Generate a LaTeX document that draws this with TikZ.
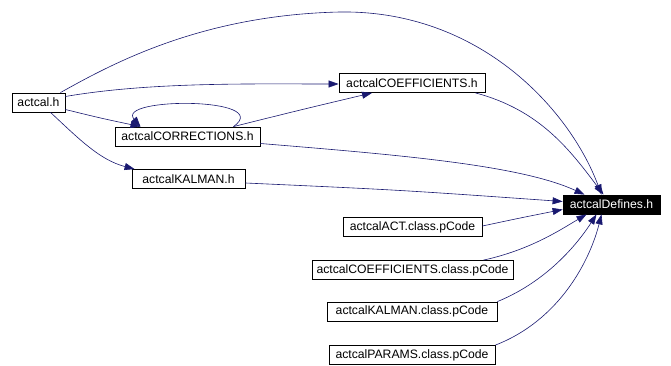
\documentclass[tikz,border=0pt]{standalone}
\usepackage{fontspec}
\setmainfont{Liberation Sans}
\usetikzlibrary{arrows.meta,calc}
\definecolor{edgec}{RGB}{25,25,112}
\begin{document}
\begin{tikzpicture}[x=1pt,y=-1pt,
  box/.style={draw=black, fill=white, inner sep=0pt, minimum height=19pt, font=\fontsize{12.2}{13}\selectfont, line width=0.8pt},
  dep/.style={draw=edgec, line width=0.6pt, -{Triangle[length=10pt,width=7pt]}}]
\useasboundingbox (0,0) rectangle (671,366);
\node[box, minimum width=53pt] (a) at (38.5,102.5) {actcal.h};
\node[box, minimum width=146pt] (coef) at (412,83) {actcalCOEFFICIENTS.h};
\node[box, minimum width=145pt] (corr) at (187.5,136.5) {actcalCORRECTIONS.h};
\node[box, minimum width=113pt] (kal) at (188.5,179) {actcalKALMAN.h};
\node[box, minimum width=97pt, fill=black, text=white] (def) at (611.5,204.5) {actcalDefines.h};
\node[box, minimum width=139pt] (act) at (412.5,227) {actcalACT.class.pCode};
\node[box, minimum width=201pt] (coefc) at (412.5,270) {actcalCOEFFICIENTS.class.pCode};
\node[box, minimum width=170pt] (kalc) at (412,311.5) {actcalKALMAN.class.pCode};
\node[box, minimum width=166pt] (par) at (412,355) {actcalPARAMS.class.pCode};
% edges
\draw[dep] ($(a.north east)+(-5,0)$) .. controls (110,65) and (200,15) .. (340,12) .. controls (480,10) and (570,110) .. ($(def.north)+(-10,0)$);
\draw[dep] ($(a.east)+(0,-6)$) .. controls (150,82) and (250,84) .. ($(coef.west)+(0,1)$);
\draw[dep] ($(a.east)+(0,7)$) .. controls (100,118) .. ($(corr.north)+(-47,0)$);
\draw[dep] ($(a.south)+(12,0)$) .. controls (80,140) and (100,160) .. ($(kal.north west)+(3,0)$);
\draw[dep] ($(corr.north)+(46,0)$) .. controls (275,97) and (115,97) .. ($(corr.north)+(-47,0)$);
\draw[dep] ($(corr.north)+(46,0)$) .. controls (300,110) .. ($(coef.south)+(-40,0)$);
\draw[dep] ($(corr.east)+(0,7)$) .. controls (400,155) and (520,165) .. ($(def.north)+(-27,0)$);
\draw[dep] ($(kal.east)+(0,4)$) .. controls (400,190) .. ($(def.west)+(0,-3)$);
\draw[dep] ($(coef.south east)+(-10,0)$) .. controls (540,110) and (570,150) .. ($(def.north)+(-8,0)$);
\draw[dep] ($(act.east)+(0,-1)$) .. controls (520,218) .. ($(def.west)+(0,5)$);
\draw[dep] ($(coefc.north east)+(-30,0)$) .. controls (530,250) and (560,230) .. ($(def.south)+(-25,0)$);
\draw[dep] ($(kalc.north east)$) .. controls (550,280) and (580,240) .. ($(def.south)+(-15,0)$);
\draw[dep] ($(par.north east)$) .. controls (560,320) and (590,260) .. ($(def.south)+(-10,0)$);
\end{tikzpicture}
\end{document}
